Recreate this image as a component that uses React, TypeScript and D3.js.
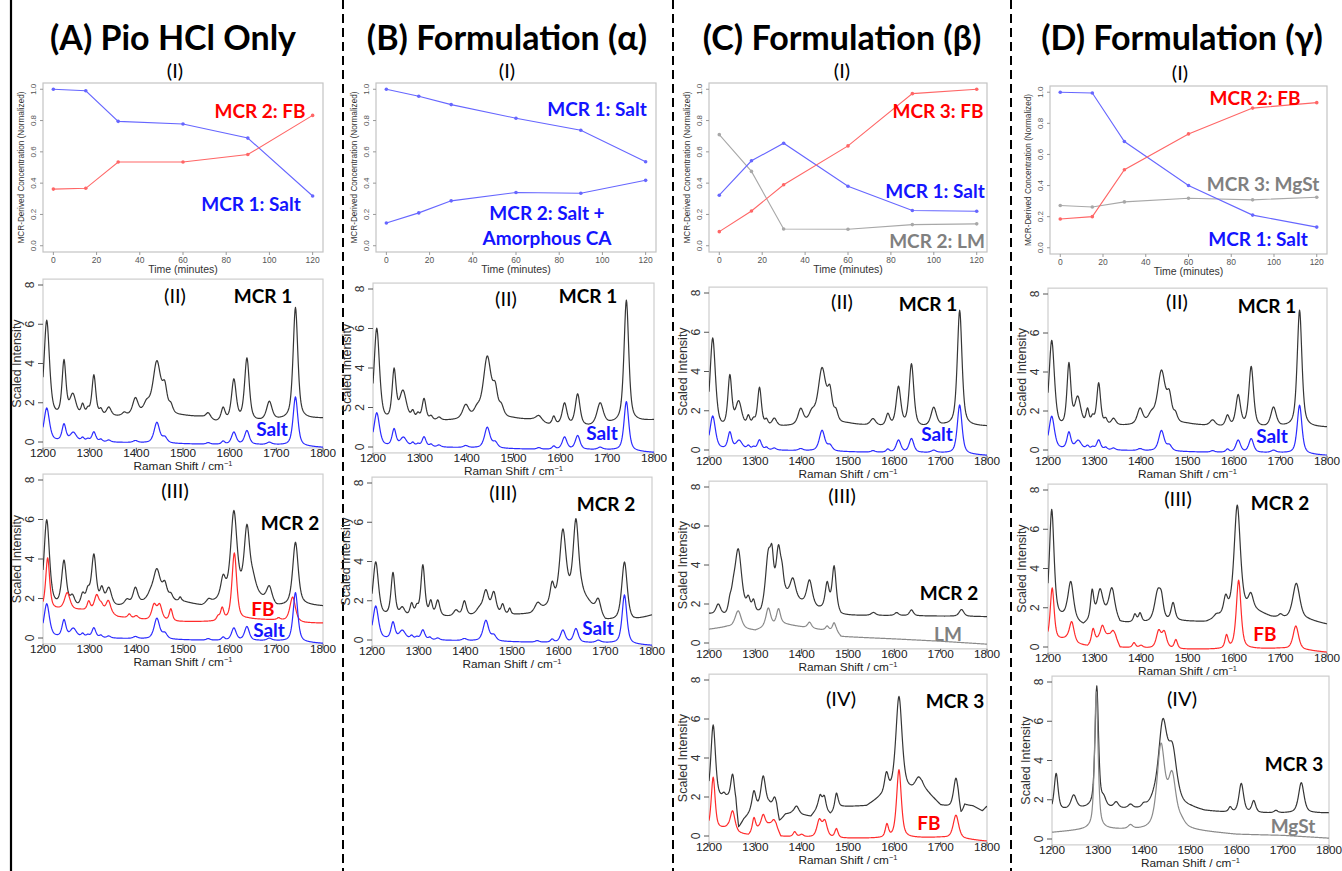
import React from 'react';
import * as d3 from 'd3';

// ---------- Data: kinetic profiles (panel I) ----------
const TIMES = [0, 15, 30, 60, 90, 120];
const A_SALT = [1.0, 0.99, 0.795, 0.778, 0.688, 0.318];
const A_FB = [0.362, 0.367, 0.535, 0.535, 0.583, 0.833];
const B_SALT = [1.0, 0.955, 0.902, 0.815, 0.738, 0.537];
const B_SALT_CA = [0.145, 0.21, 0.287, 0.34, 0.335, 0.418];
const C_SALT = [0.323, 0.543, 0.655, 0.38, 0.225, 0.22];
const C_LM = [0.71, 0.475, 0.107, 0.105, 0.135, 0.14];
const C_FB = [0.09, 0.222, 0.39, 0.638, 0.972, 1.0];
const D_SALT = [1.0, 0.995, 0.683, 0.4, 0.21, 0.133];
const D_FB = [0.185, 0.2, 0.502, 0.732, 0.898, 0.933];
const D_MGST = [0.272, 0.262, 0.295, 0.318, 0.308, 0.325];

const TIME_TICKS = [0, 20, 40, 60, 80, 100, 120];
const CONC_TICKS = [0, 0.2, 0.4, 0.6, 0.8, 1.0];
const RAMAN_TICKS = [1200, 1300, 1400, 1500, 1600, 1700, 1800];
const INTENSITY_TICKS = [0, 2, 4, 6, 8];

// ---------- Data: spectra, read as baseline points [shift, intensity] and peaks [shift, height, half-width] ----------
const SALT_REF_BASE = [[1200, 0.02], [1350, -0.02], [1450, -0.07], [1550, -0.12], [1700, -0.15], [1800, -0.28]];
const SALT_REF_PEAKS = [[1208, 1.7, 7], [1245, 0.85, 5], [1265, 0.45, 8], [1285, 0.18, 4], [1296, 0.12, 4], [1309, 0.5, 5], [1324, 0.12, 4], [1341, 0.1, 5], [1398, 0.1, 6], [1444, 1.05, 7], [1461, 0.28, 6], [1554, 0.08, 5], [1586, 0.15, 4], [1609, 0.62, 6], [1637, 0.7, 6], [1685, 0.12, 6], [1741, 2.5, 6]];

const A_MCR1_BASE = [[1200, 1.15], [1350, 1.25], [1420, 1.3], [1500, 1.3], [1540, 1.25], [1570, 1.0], [1660, 1.0], [1710, 1.1], [1800, 1.2]];
const A_MCR1_PEAKS = [[1208, 5.0, 7], [1245, 2.8, 5], [1264, 1.1, 8], [1285, 0.55, 4], [1296, 0.3, 4], [1309, 2.1, 5], [1324, 0.3, 4], [1341, 0.45, 6], [1374, 0.15, 5], [1398, 0.85, 7], [1422, 0.5, 8], [1444, 2.7, 10], [1461, 1.2, 6], [1474, 0.4, 5], [1554, 0.3, 6], [1586, 0.65, 5], [1609, 2.1, 6], [1637, 3.2, 6], [1685, 0.95, 7], [1741, 5.7, 6]];

const B_MCR1_BASE = [[1200, 1.15], [1350, 1.3], [1500, 1.4], [1540, 1.35], [1575, 1.1], [1660, 1.0], [1710, 1.15], [1800, 1.35]];
const B_MCR1_PEAKS = [[1208, 4.8, 7], [1245, 2.5, 5], [1264, 1.5, 9], [1285, 0.4, 4], [1296, 0.3, 4], [1309, 1.1, 5], [1324, 0.2, 4], [1341, 0.15, 5], [1398, 0.7, 8], [1422, 0.4, 8], [1444, 3.1, 10], [1461, 1.2, 6], [1474, 0.5, 6], [1554, 0.3, 8], [1586, 0.4, 4], [1609, 1.1, 6], [1637, 1.6, 6], [1685, 1.1, 8], [1741, 6.2, 6]];

const C_MCR1_BASE = [[1200, 0.95], [1350, 1.15], [1500, 1.3], [1575, 1.15], [1660, 1.1], [1710, 1.2], [1800, 1.2]];
const C_MCR1_PEAKS = [[1208, 4.7, 7], [1245, 2.6, 5], [1264, 1.3, 8], [1285, 0.5, 4], [1296, 0.3, 4], [1309, 2.0, 5], [1324, 0.3, 4], [1341, 0.4, 6], [1398, 0.8, 7], [1422, 0.5, 8], [1444, 2.8, 10], [1461, 1.4, 6], [1474, 0.5, 5], [1554, 0.35, 7], [1586, 0.6, 5], [1609, 2.0, 6], [1637, 3.2, 6], [1685, 0.95, 7], [1741, 5.9, 6]];

const D_MCR1_BASE = [[1200, 0.95], [1350, 1.2], [1500, 1.3], [1575, 1.15], [1660, 1.1], [1710, 1.15], [1800, 1.15]];
const D_MCR1_PEAKS = [[1208, 4.6, 7], [1245, 3.2, 5], [1264, 1.5, 8], [1285, 0.8, 4], [1296, 0.4, 4], [1309, 2.2, 5], [1324, 0.3, 4], [1341, 0.35, 6], [1398, 0.8, 7], [1422, 0.4, 8], [1444, 2.7, 10], [1461, 1.2, 6], [1474, 0.4, 5], [1554, 0.3, 7], [1586, 0.55, 5], [1609, 1.6, 6], [1637, 3.1, 6], [1685, 1.0, 7], [1741, 6.0, 6]];

const A_MCR2_BASE = [[1200, 1.55], [1280, 1.45], [1360, 1.55], [1420, 1.75], [1500, 1.8], [1540, 1.6], [1580, 1.85], [1650, 2.15], [1700, 1.55], [1760, 1.65], [1800, 1.6]];
const A_MCR2_PEAKS = [[1208, 4.4, 7], [1245, 2.3, 6], [1263, 0.5, 6], [1285, 0.6, 5], [1296, 0.7, 5], [1309, 2.6, 6], [1326, 0.8, 5], [1341, 0.9, 7], [1380, 0.25, 6], [1398, 0.8, 6], [1430, 0.3, 8], [1444, 1.6, 9], [1461, 0.8, 6], [1474, 0.3, 5], [1494, 0.2, 3], [1555, 0.2, 6], [1586, 1.0, 6], [1609, 4.3, 8], [1637, 3.3, 7], [1650, 0.6, 8], [1685, 0.8, 7], [1741, 3.2, 7]];

const A_FB_BASE = [[1200, 1.45], [1280, 1.4], [1340, 1.25], [1360, 1.05], [1420, 0.9], [1490, 0.82], [1570, 0.82], [1640, 0.95], [1700, 0.9], [1760, 0.76], [1800, 0.75]];
const A_FB_PEAKS = [[1210, 2.6, 5], [1252, 0.85, 7], [1298, 0.45, 4], [1315, 0.8, 6], [1325, 0.3, 5], [1340, 0.6, 6], [1385, 0.2, 4], [1400, 0.15, 5], [1438, 0.75, 6], [1450, 0.75, 6], [1474, 0.6, 4], [1575, 0.2, 4], [1584, 0.6, 4], [1610, 3.4, 6], [1705, 0.1, 4], [1735, 1.25, 7]];

const B_MCR2_BASE = [[1200, 1.15], [1280, 1.15], [1360, 1.15], [1500, 1.25], [1540, 1.3], [1580, 1.65], [1650, 2.2], [1700, 0.95], [1760, 0.95], [1800, 1.25]];
const B_MCR2_PEAKS = [[1208, 2.8, 7], [1245, 2.2, 5], [1265, 0.4, 6], [1285, 0.6, 4], [1296, 0.4, 4], [1309, 2.6, 5], [1326, 0.7, 4], [1341, 0.8, 5], [1380, 0.3, 6], [1398, 0.75, 5], [1430, 0.3, 8], [1444, 1.2, 7], [1461, 1.1, 6], [1480, 0.5, 4], [1495, 0.3, 3], [1555, 0.4, 7], [1586, 1.0, 5], [1609, 3.6, 8], [1637, 3.9, 7], [1685, 0.7, 6], [1741, 3.0, 7]];

const C_MCR2_BASE = [[1200, 1.45], [1235, 1.25], [1312, 1.35], [1335, 2.15], [1365, 2.35], [1400, 2.0], [1436, 1.7], [1475, 1.65], [1485, 1.4], [1600, 1.4], [1800, 1.35]];
const C_MCR2_PEAKS = [[1220, 0.55, 6], [1245, 0.5, 4], [1252, 0.6, 5], [1263, 3.4, 9], [1285, 0.7, 5], [1296, 0.6, 4], [1328, 2.5, 7], [1336, 1.5, 4], [1350, 2.4, 6], [1358, 0.8, 4], [1381, 1.0, 7], [1417, 1.3, 7], [1455, 1.3, 5], [1470, 2.2, 5], [1555, 0.15, 6], [1605, 0.15, 5], [1637, 0.3, 5], [1745, 0.35, 6]];

const C_LM_BASE = [[1200, 0.7], [1240, 0.82], [1300, 0.62], [1320, 0.78], [1360, 0.97], [1400, 0.82], [1440, 0.68], [1475, 0.62], [1485, 0.33], [1600, 0.21], [1700, 0.09], [1800, -0.06]];
const C_LM_PEAKS = [[1263, 0.9, 8], [1328, 0.95, 6], [1350, 0.8, 5], [1417, 0.3, 5], [1455, 0.2, 4], [1470, 0.4, 4]];

const C_MCR3_BASE = [[1200, 1.75], [1240, 1.85], [1258, 1.45], [1264, 0.3], [1275, 0.78], [1290, 1.15], [1330, 1.55], [1346, 1.25], [1352, 0.68], [1365, 1.08], [1380, 1.15], [1420, 0.98], [1440, 1.55], [1462, 1.08], [1480, 1.48], [1540, 1.52], [1570, 1.95], [1600, 2.2], [1640, 2.3], [1660, 2.5], [1700, 1.55], [1720, 1.45], [1738, 1.45], [1744, 0.98], [1752, 1.55], [1770, 1.52], [1790, 1.28], [1800, 1.52]];
const C_MCR3_PEAKS = [[1209, 3.9, 6], [1232, 0.2, 4], [1251, 1.5, 5], [1297, 1.0, 5], [1317, 1.6, 6], [1342, 0.6, 5], [1389, 0.4, 6], [1440, 0.5, 5], [1449, 0.6, 4], [1475, 0.8, 4], [1583, 1.0, 5], [1610, 4.9, 8], [1652, 0.5, 8], [1733, 1.5, 6]];

const FB_REF_BASE = [[1200, 0.28], [1240, 0.38], [1265, 0.12], [1285, 0.02], [1310, 0.42], [1330, 0.58], [1345, 0.48], [1355, -0.03], [1420, -0.08], [1490, -0.12], [1570, -0.12], [1700, -0.08], [1760, -0.18], [1800, -0.27]];
const FB_REF_PEAKS = [[1209, 2.7, 5], [1251, 1.0, 6], [1297, 0.7, 4], [1317, 0.6, 5], [1340, 0.3, 5], [1385, 0.25, 4], [1400, 0.12, 5], [1438, 0.85, 6], [1450, 0.8, 6], [1475, 0.45, 4], [1584, 0.65, 4], [1610, 3.5, 6], [1733, 1.2, 7]];

const D_MCR2_BASE = [[1200, 1.35], [1240, 1.45], [1276, 1.05], [1300, 1.45], [1340, 1.75], [1355, 1.2], [1410, 1.2], [1480, 1.3], [1540, 1.25], [1580, 1.55], [1640, 1.85], [1680, 1.5], [1715, 1.4], [1760, 1.35], [1800, 1.15]];
const D_MCR2_PEAKS = [[1208, 5.6, 6], [1249, 1.9, 7], [1295, 1.4, 4], [1312, 1.3, 7], [1337, 1.2, 7], [1387, 0.4, 4], [1398, 0.45, 4], [1436, 1.5, 8], [1444, 0.8, 5], [1469, 0.9, 5], [1562, 0.15, 6], [1582, 0.8, 5], [1607, 5.5, 8], [1636, 0.7, 6], [1700, 0.15, 5], [1734, 1.85, 9]];

const D_MCR3_BASE = [[1200, 1.4], [1280, 1.55], [1400, 1.45], [1420, 1.75], [1500, 1.55], [1530, 1.4], [1600, 1.3], [1800, 1.32]];
const D_MCR3_PEAKS = [[1209, 1.9, 5], [1247, 0.7, 7], [1297, 6.2, 4.5], [1312, 0.4, 6], [1339, 0.3, 6], [1370, 0.2, 6], [1399, 0.2, 5], [1440, 4.0, 11], [1461, 2.6, 11], [1586, 0.25, 4], [1610, 1.5, 6], [1637, 0.6, 5], [1685, 0.12, 5], [1740, 1.55, 7]];

const D_MGST_BASE = [[1200, 0.33], [1280, 0.48], [1320, 0.48], [1400, 0.43], [1500, 0.43], [1600, 0.23], [1700, 0.18], [1800, 0.04]];
const D_MGST_PEAKS = [[1296, 7.0, 4.5], [1370, 0.2, 6], [1436, 4.2, 10], [1460, 2.6, 10], [1480, 0.3, 10]];

// ---------- styling ----------
const CAL = 'Lato, "Open Sans", sans-serif';
const RF = '"Liberation Sans", Arial, sans-serif';
const BLUE_L = '#6666ff';
const RED_L = '#ff6666';
const GRAY_L = '#a8a8a8';
const S_BLACK = '#363636';
const S_BLUE = '#2b2bff';
const S_RED = '#ff2b2b';
const S_GRAY = '#8a8a8a';
const T_BLUE = '#1414ff';
const T_RED = '#ff0000';
const T_GRAY = '#808080';

function pv(x: number, p: number[]) {
  const t = (x - p[0]) / p[2];
  return p[1] * (0.6 / (1 + t * t) + 0.4 * Math.exp(-0.6931 * t * t));
}
function buildSpectrum(base: number[][], peaks: number[][]) {
  const bl = d3.scaleLinear().domain(base.map(b => b[0])).range(base.map(b => b[1])).clamp(true);
  return d3.range(1200, 1800.5, 1).map(x => [x, bl(x) + d3.sum(peaks, p => pv(x, p))]);
}

type Lab = { t: string; x: number; y: number; c?: string; b?: boolean; s?: number };

function Labels({ items }: { items: Lab[] }) {
  return (
    <g>
      {items.map((l, i) => (
        <text key={i} x={l.x} y={l.y} textAnchor="middle" dominantBaseline="central"
          fontFamily={CAL} fontWeight={l.b === false ? 400 : 700} fontSize={l.s || 19} fill={l.c || '#000'}>
          {l.t}
        </text>
      ))}
    </g>
  );
}

function TimePanel({ box, series, labels, roman }: any) {
  const x = d3.scaleLinear().domain([-4.8, 124.8]).range([box.x0, box.x1]);
  const y = d3.scaleLinear().domain([-0.04, 1.04]).range([box.y1, box.y0]);
  const line = d3.line<number>().x((_, i) => x(TIMES[i])).y(d => y(d));
  return (
    <g>
      <rect x={box.x0 - 1} y={box.y0 - 6} width={box.x1 - box.x0 + 2} height={box.y1 - box.y0 + 26} fill="#fff" />
      <rect x={box.x0} y={box.y0} width={box.x1 - box.x0} height={box.y1 - box.y0} fill="none" stroke="#c4c4c4" strokeWidth={1.2} />
      {TIME_TICKS.map(t => (
        <g key={t}>
          <line x1={x(t)} x2={x(t)} y1={box.y1} y2={box.y1 + 3} stroke="#999" />
          <text x={x(t)} y={box.y1 + 8} textAnchor="middle" dominantBaseline="central" fontFamily={RF} fontSize={8.5} fill="#555">{t}</text>
        </g>
      ))}
      {CONC_TICKS.map(t => (
        <g key={t}>
          <line x1={box.x0 - 3} x2={box.x0} y1={y(t)} y2={y(t)} stroke="#999" />
          <text transform={`translate(${box.x0 - 10},${y(t)}) rotate(-90)`} textAnchor="middle" dominantBaseline="central" fontFamily={RF} fontSize={8} fill="#555">{t.toFixed(1)}</text>
        </g>
      ))}
      <text x={(box.x0 + box.x1) / 2} y={box.y1 + 17} textAnchor="middle" dominantBaseline="central" fontFamily={RF} fontSize={10.5} fill="#333">Time (minutes)</text>
      <text transform={`translate(${box.x0 - 22},${(box.y0 + box.y1) / 2}) rotate(-90)`} textAnchor="middle" dominantBaseline="central" fontFamily={RF} fontSize={8.2} fill="#333">MCR-Derived Concentration (Normalized)</text>
      {series.map((s: any, k: number) => (
        <g key={k}>
          <path d={line(s.v) || ''} fill="none" stroke={s.c} strokeWidth={1.1} />
          {s.v.map((v: number, i: number) => (
            <circle key={i} cx={x(TIMES[i])} cy={y(v)} r={1.8} fill={s.c} />
          ))}
        </g>
      ))}
      <Labels items={[{ t: '(I)', x: roman.x, y: roman.y, b: false, s: 20 }, ...labels]} />
    </g>
  );
}

function SpecPanel({ p, spectra, labels, id }: any) {
  const unit = (p.y0 - p.y8) / 8;
  const top = p.y8 - 0.3 * unit;
  const bot = p.y0 + 0.3 * unit;
  const x = d3.scaleLinear().domain([1200, 1800]).range([p.x0, p.x1]);
  const y = d3.scaleLinear().domain([0, 8]).range([p.y0, p.y8]);
  const line = d3.line<number[]>().x(d => x(d[0])).y(d => y(d[1]));
  return (
    <g>
      <defs>
        <clipPath id={id}><rect x={p.x0} y={top} width={p.x1 - p.x0} height={bot - top} /></clipPath>
      </defs>
      <rect x={p.x0} y={top} width={p.x1 - p.x0} height={bot - top} fill="#fff" stroke="#cdcdcd" strokeWidth={1.2} />
      <g clipPath={`url(#${id})`}>
        {spectra.map((s: any, k: number) => (
          <path key={k} d={line(buildSpectrum(s.base, s.peaks)) || ''} fill="none" stroke={s.c} strokeWidth={1.2} strokeLinejoin="round" />
        ))}
      </g>
      {RAMAN_TICKS.map(t => (
        <g key={t}>
          <line x1={x(t)} x2={x(t)} y1={bot} y2={bot + 5} stroke="#555" />
          <text x={x(t)} y={bot + 5.5} textAnchor="middle" dominantBaseline="central" fontFamily={RF} fontSize={11.8} fill="#222">{t}</text>
        </g>
      ))}
      {INTENSITY_TICKS.map(t => (
        <g key={t}>
          <line x1={p.x0 - 5} x2={p.x0} y1={y(t)} y2={y(t)} stroke="#555" />
          <text transform={`translate(${p.x0 - 13},${y(t)}) rotate(-90)`} textAnchor="middle" dominantBaseline="central" fontFamily={RF} fontSize={12} fill="#333">{t}</text>
        </g>
      ))}
      <text x={(p.x0 + p.x1) / 2} y={bot + 18.5} textAnchor="middle" dominantBaseline="central" fontFamily={RF} fontSize={11.8} fill="#222">
        Raman Shift / cm<tspan dy={-3.5} fontSize={7.5}>−1</tspan>
      </text>
      <text transform={`translate(${p.x0 - 26},${(top + bot) / 2}) rotate(-90)`} textAnchor="middle" dominantBaseline="central" fontFamily={RF} fontSize={12.5} fill="#333">Scaled Intensity</text>
      <Labels items={labels} />
    </g>
  );
}

export default function App() {
  const W = 1342, H = 871;
  const dashX = [343, 673, 1011];
  const salt = { base: SALT_REF_BASE, peaks: SALT_REF_PEAKS, c: S_BLUE };
  const fbRef = { base: FB_REF_BASE, peaks: FB_REF_PEAKS, c: S_RED };
  return (
    <svg width={W} height={H} viewBox={`0 0 ${W} ${H}`} style={{ position: 'absolute', left: 0, top: 0, background: '#fff' }}>
      <rect width={W} height={H} fill="#fff" />
      {/* frame lines */}
      <line x1={11} x2={11} y1={0} y2={H} stroke="#000" strokeWidth={2.2} />
      {dashX.map(d => (
        <line key={d} x1={d} x2={d} y1={0} y2={H} stroke="#000" strokeWidth={2} strokeDasharray="9 5" />
      ))}

      {/* titles */}
      <Labels items={[
        { t: '(A) Pio HCl Only', x: 173, y: 36, s: 34 },
        { t: '(B) Formulation (α)', x: 507, y: 36, s: 34 },
        { t: '(C) Formulation (β)', x: 842, y: 36, s: 34 },
        { t: '(D) Formulation (γ)', x: 1182, y: 36, s: 34 },
      ]} />

      {/* Panel I */}
      <TimePanel box={{ x0: 43, x1: 323, y0: 83, y1: 252 }} roman={{ x: 175, y: 70 }}
        series={[{ v: A_SALT, c: BLUE_L }, { v: A_FB, c: RED_L }]}
        labels={[{ t: 'MCR 2: FB', x: 260, y: 110, c: T_RED }, { t: 'MCR 1: Salt', x: 251, y: 203, c: T_BLUE }]} />
      <TimePanel box={{ x0: 376, x1: 656, y0: 83, y1: 252 }} roman={{ x: 507, y: 70 }}
        series={[{ v: B_SALT, c: BLUE_L }, { v: B_SALT_CA, c: BLUE_L }]}
        labels={[{ t: 'MCR 1: Salt', x: 597, y: 108, c: T_BLUE }, { t: 'MCR 2: Salt +', x: 547, y: 212, c: T_BLUE }, { t: 'Amorphous CA', x: 547, y: 237, c: T_BLUE }]} />
      <TimePanel box={{ x0: 709, x1: 987, y0: 83, y1: 252 }} roman={{ x: 842, y: 70 }}
        series={[{ v: C_LM, c: GRAY_L }, { v: C_SALT, c: BLUE_L }, { v: C_FB, c: RED_L }]}
        labels={[{ t: 'MCR 3: FB', x: 938, y: 110, c: T_RED }, { t: 'MCR 1: Salt', x: 935, y: 190, c: T_BLUE }, { t: 'MCR 2: LM', x: 937, y: 240, c: T_GRAY }]} />
      <TimePanel box={{ x0: 1050, x1: 1327, y0: 86, y1: 254 }} roman={{ x: 1180, y: 72 }}
        series={[{ v: D_MGST, c: GRAY_L }, { v: D_SALT, c: BLUE_L }, { v: D_FB, c: RED_L }]}
        labels={[{ t: 'MCR 2: FB', x: 1255, y: 97, c: T_RED }, { t: 'MCR 3: MgSt', x: 1263, y: 183, c: T_GRAY }, { t: 'MCR 1: Salt', x: 1258, y: 238, c: T_BLUE }]} />

      {/* Panel II */}
      <SpecPanel id="a2" p={{ x0: 43, x1: 323, y8: 285, y0: 442 }}
        spectra={[{ base: A_MCR1_BASE, peaks: A_MCR1_PEAKS, c: S_BLACK }, salt]}
        labels={[{ t: '(II)', x: 175, y: 295, b: false, s: 20 }, { t: 'MCR 1', x: 263, y: 295 }, { t: 'Salt', x: 272, y: 428, c: T_BLUE }]} />
      <SpecPanel id="b2" p={{ x0: 373, x1: 654, y8: 289, y0: 447 }}
        spectra={[{ base: B_MCR1_BASE, peaks: B_MCR1_PEAKS, c: S_BLACK }, salt]}
        labels={[{ t: '(II)', x: 506, y: 298, b: false, s: 20 }, { t: 'MCR 1', x: 588, y: 295 }, { t: 'Salt', x: 602, y: 432, c: T_BLUE }]} />
      <SpecPanel id="c2" p={{ x0: 709, x1: 987, y8: 293, y0: 450 }}
        spectra={[{ base: C_MCR1_BASE, peaks: C_MCR1_PEAKS, c: S_BLACK }, salt]}
        labels={[{ t: '(II)', x: 842, y: 301, b: false, s: 20 }, { t: 'MCR 1', x: 928, y: 303 }, { t: 'Salt', x: 937, y: 433, c: T_BLUE }]} />
      <SpecPanel id="d2" p={{ x0: 1048, x1: 1327, y8: 294, y0: 450 }}
        spectra={[{ base: D_MCR1_BASE, peaks: D_MCR1_PEAKS, c: S_BLACK }, salt]}
        labels={[{ t: '(II)', x: 1177, y: 301, b: false, s: 20 }, { t: 'MCR 1', x: 1267, y: 305 }, { t: 'Salt', x: 1272, y: 435, c: T_BLUE }]} />

      {/* Panel III */}
      <SpecPanel id="a3" p={{ x0: 43, x1: 323, y8: 480, y0: 638 }}
        spectra={[{ base: A_MCR2_BASE, peaks: A_MCR2_PEAKS, c: S_BLACK }, { base: A_FB_BASE, peaks: A_FB_PEAKS, c: S_RED }, salt]}
        labels={[{ t: '(III)', x: 175, y: 490, b: false, s: 20 }, { t: 'MCR 2', x: 290, y: 522 }, { t: 'FB', x: 263, y: 608, c: T_RED }, { t: 'Salt', x: 269, y: 629, c: T_BLUE }]} />
      <SpecPanel id="b3" p={{ x0: 372, x1: 652, y8: 483, y0: 640 }}
        spectra={[{ base: B_MCR2_BASE, peaks: B_MCR2_PEAKS, c: S_BLACK }, salt]}
        labels={[{ t: '(III)', x: 503, y: 492, b: false, s: 20 }, { t: 'MCR 2', x: 606, y: 503 }, { t: 'Salt', x: 598, y: 627, c: T_BLUE }]} />
      <SpecPanel id="c3" p={{ x0: 709, x1: 987, y8: 487, y0: 643 }}
        spectra={[{ base: C_MCR2_BASE, peaks: C_MCR2_PEAKS, c: S_BLACK }, { base: C_LM_BASE, peaks: C_LM_PEAKS, c: S_GRAY }]}
        labels={[{ t: '(III)', x: 842, y: 495, b: false, s: 20 }, { t: 'MCR 2', x: 949, y: 592 }, { t: 'LM', x: 948, y: 633, c: T_GRAY }]} />
      <SpecPanel id="d3" p={{ x0: 1048, x1: 1327, y8: 490, y0: 647 }}
        spectra={[{ base: D_MCR2_BASE, peaks: D_MCR2_PEAKS, c: S_BLACK }, fbRef]}
        labels={[{ t: '(III)', x: 1178, y: 498, b: false, s: 20 }, { t: 'MCR 2', x: 1280, y: 502 }, { t: 'FB', x: 1265, y: 633, c: T_RED }]} />

      {/* Panel IV */}
      <SpecPanel id="c4" p={{ x0: 709, x1: 987, y8: 680, y0: 836 }}
        spectra={[{ base: C_MCR3_BASE, peaks: C_MCR3_PEAKS, c: S_BLACK }, fbRef]}
        labels={[{ t: '(IV)', x: 841, y: 698, b: false, s: 20 }, { t: 'MCR 3', x: 955, y: 700 }, { t: 'FB', x: 929, y: 822, c: T_RED }]} />
      <SpecPanel id="d4" p={{ x0: 1052, x1: 1329, y8: 682, y0: 839 }}
        spectra={[{ base: D_MCR3_BASE, peaks: D_MCR3_PEAKS, c: S_BLACK }, { base: D_MGST_BASE, peaks: D_MGST_PEAKS, c: S_GRAY }]}
        labels={[{ t: '(IV)', x: 1182, y: 698, b: false, s: 20 }, { t: 'MCR 3', x: 1294, y: 763 }, { t: 'MgSt', x: 1293, y: 825, c: T_GRAY }]} />
    </svg>
  );
}
